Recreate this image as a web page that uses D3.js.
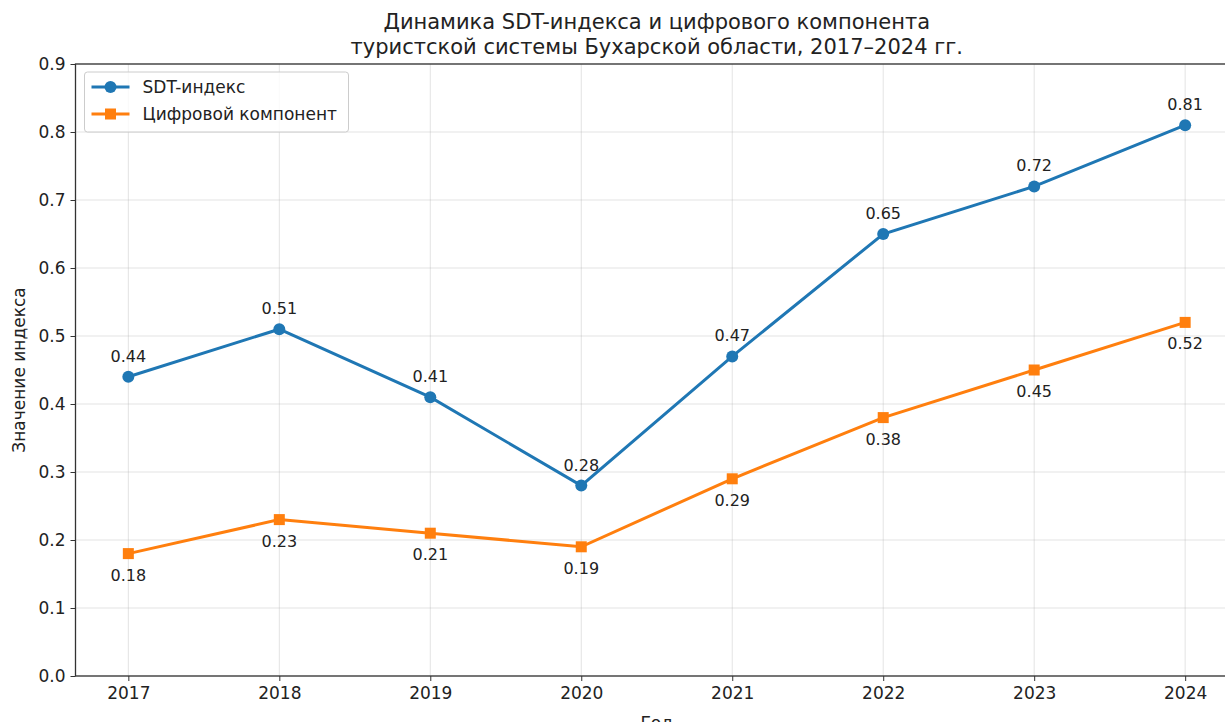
<!DOCTYPE html>
<html>
<head>
<meta charset="utf-8">
<script src="https://cdn.jsdelivr.net/npm/d3@7"></script>
<style>
  body { margin: 0; background: #fff; }
  text { font-family: "DejaVu Sans", sans-serif; fill: #222; }
</style>
</head>
<body>
<div id="chart"></div>
<script>
const years = [2017, 2018, 2019, 2020, 2021, 2022, 2023, 2024]
const sdtIndex = [0.44, 0.51, 0.41, 0.28, 0.47, 0.65, 0.72, 0.81]
const digital = [0.18, 0.23, 0.21, 0.19, 0.29, 0.38, 0.45, 0.52]
const yTicks = [0, 0.1, 0.2, 0.3, 0.4, 0.5, 0.6, 0.7, 0.8, 0.9]

const width = 1225, height = 722
const margin = {left: 75.5, top: 64, right: -13, bottom: 46}
const plotW = width - margin.left - margin.right
const plotH = height - margin.top - margin.bottom

let svg = d3.select("#chart")
    .append("svg")
    .attr("width", width)
    .attr("height", height)

let g = svg.append("g")
    .attr("transform", `translate(${margin.left}, ${margin.top})`)

let x = d3.scaleLinear()
    .domain([2016.65, 2024.35])
    .range([0, plotW])

let y = d3.scaleLinear()
    .domain([0, 0.9])
    .range([plotH, 0])

// grid
g.append("g").selectAll("line")
    .data(years).enter().append("line")
    .attr("x1", d => x(d)).attr("x2", d => x(d))
    .attr("y1", 0).attr("y2", plotH)
    .style("stroke", "#b0b0b0").style("stroke-opacity", 0.35).style("stroke-width", 1)
g.append("g").selectAll("line")
    .data(yTicks).enter().append("line")
    .attr("x1", 0).attr("x2", plotW)
    .attr("y1", d => y(d)).attr("y2", d => y(d))
    .style("stroke", "#b0b0b0").style("stroke-opacity", 0.35).style("stroke-width", 1)

// axes
let xAxis = g.append("g")
    .attr("transform", `translate(0, ${plotH})`)
    .call(d3.axisBottom(x).tickValues(years).tickFormat(d3.format("d")).tickSize(5).tickPadding(6))
let yAxis = g.append("g")
    .call(d3.axisLeft(y).tickValues(yTicks).tickFormat(d3.format(".1f")).tickSize(5).tickPadding(5))

for (let ax of [xAxis, yAxis]) {
    ax.select(".domain").remove()
    ax.selectAll("line").style("stroke", "#333").style("stroke-width", 1)
    ax.selectAll("text").style("font-size", "17px").style("fill", "#222")
        .style("font-family", "DejaVu Sans, sans-serif")
}

// frame
g.append("rect")
    .attr("width", plotW).attr("height", plotH)
    .style("fill", "none").style("stroke", "#333").style("stroke-width", 1.3)

const blue = "#1f77b4", orange = "#ff7f0e"

let line = d3.line()
    .x((d, i) => x(years[i]))
    .y(d => y(d))

g.append("path").datum(sdtIndex)
    .attr("d", line)
    .style("fill", "none").style("stroke", blue).style("stroke-width", 3)
g.append("path").datum(digital)
    .attr("d", line)
    .style("fill", "none").style("stroke", orange).style("stroke-width", 3)

g.append("g").selectAll("circle")
    .data(sdtIndex).enter().append("circle")
    .attr("cx", (d, i) => x(years[i]))
    .attr("cy", d => y(d))
    .attr("r", 6)
    .style("fill", blue)

g.append("g").selectAll("rect")
    .data(digital).enter().append("rect")
    .attr("x", (d, i) => x(years[i]) - 5.5)
    .attr("y", d => y(d) - 5.5)
    .attr("width", 11).attr("height", 11)
    .style("fill", orange)

// value labels
g.append("g").selectAll("text")
    .data(sdtIndex).enter().append("text")
    .attr("x", (d, i) => x(years[i]))
    .attr("y", d => y(d) - 15)
    .style("text-anchor", "middle")
    .style("font-size", "16px")
    .text(d => d.toFixed(2))
g.append("g").selectAll("text")
    .data(digital).enter().append("text")
    .attr("x", (d, i) => x(years[i]))
    .attr("y", d => y(d) + 27)
    .style("text-anchor", "middle")
    .style("font-size", "16px")
    .text(d => d.toFixed(2))

// legend
let legend = g.append("g").attr("transform", "translate(9, 8)")
legend.append("rect")
    .attr("width", 264).attr("height", 60).attr("rx", 3)
    .style("fill", "#fff").style("fill-opacity", 0.8)
    .style("stroke", "#ccc").style("stroke-width", 1)
const legendItems = [
    {name: "SDT-индекс", color: blue, shape: "circle"},
    {name: "Цифровой компонент", color: orange, shape: "square"}
]
legendItems.forEach(function(item, i) {
    let row = legend.append("g").attr("transform", `translate(0, ${15 + i * 27})`)
    row.append("line")
        .attr("x1", 7).attr("x2", 45)
        .style("stroke", item.color).style("stroke-width", 3)
    if (item.shape === "circle") {
        row.append("circle").attr("cx", 26).attr("r", 6).style("fill", item.color)
    } else {
        row.append("rect").attr("x", 20.5).attr("y", -5.5).attr("width", 11).attr("height", 11).style("fill", item.color)
    }
    row.append("text")
        .attr("x", 58).attr("y", 6)
        .style("font-size", "17px")
        .text(item.name)
})

// title
let title = svg.append("text")
    .attr("x", margin.left + plotW / 2)
    .style("text-anchor", "middle")
    .style("font-size", "21px")
title.append("tspan").attr("x", margin.left + plotW / 2).attr("y", 29)
    .text("Динамика SDT-индекса и цифрового компонента")
title.append("tspan").attr("x", margin.left + plotW / 2).attr("y", 54)
    .text("туристской системы Бухарской области, 2017–2024 гг.")

// axis labels
svg.append("text")
    .attr("x", margin.left + plotW / 2)
    .attr("y", 729)
    .style("text-anchor", "middle")
    .style("font-size", "17px")
    .text("Год")
svg.append("text")
    .attr("transform", `translate(25, ${margin.top + plotH / 2}) rotate(-90)`)
    .style("text-anchor", "middle")
    .style("font-size", "17px")
    .text("Значение индекса")
</script>
</body>
</html>
